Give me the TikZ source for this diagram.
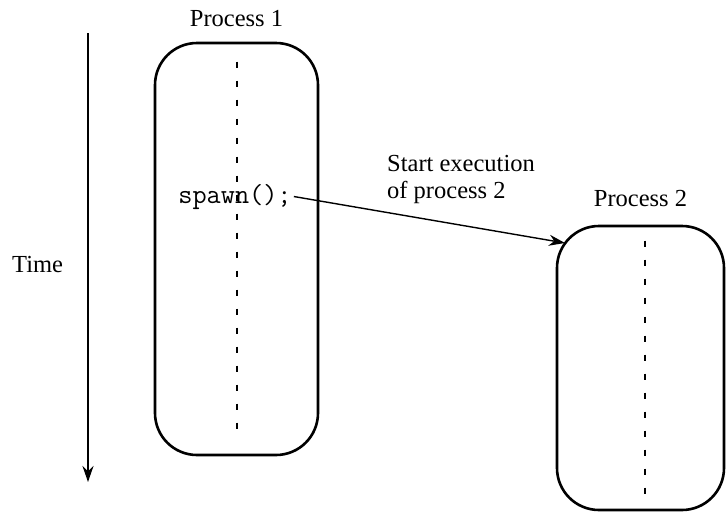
\documentclass[tikz,border=0pt]{standalone}
\usepackage{fontspec}
\setmainfont{Liberation Serif}
\usetikzlibrary{positioning,arrows.meta}
\tikzset{
 proc/.style
  = {rectangle, draw, rounded corners=42pt, line width=2.6pt, inner sep=0pt},
 lbl/.style
  = {inner sep=0pt, font=\fontsize{24.5}{27}\selectfont},
 code/.style
  = {inner sep=2pt, font=\fontsize{27.5}{30}\selectfont\ttfamily},
 life/.style
  = {line width=2pt, dash pattern=on 6pt off 13pt},
 arrow/.style
  = {line width=1.4pt, -{Stealth[length=16pt,width=11pt]}},
}

\begin{document}
\begin{tikzpicture}[x=1pt, y=-1pt]
\useasboundingbox (0,0) rectangle (726,512);
% time axis
\coordinate (t0) at (88,33);
\coordinate (t1) at (88,482);
\draw [arrow, line width=2pt] (t0) -- (t1);
\node (time) [lbl, anchor=base west] at (12,272) {Time};
% the two processes
\node (p1) [proc, minimum width=163pt, minimum height=412pt] at (236.5,249) {};
\node (p2) [proc, minimum width=167pt, minimum height=284pt] at (640.5,368) {};
\node (n1) [lbl, anchor=base] at ([yshift=15pt]p1.north) {Process 1};
\node (n2) [lbl, anchor=base] at ([yshift=18pt]p2.north) {Process 2};
\draw [life] ([yshift=-20pt]p1.north) -- ([yshift=18pt]p1.south);
\draw [life] ([xshift=4pt, yshift=-16pt]p2.north) -- ([xshift=4pt, yshift=5pt]p2.south);
% spawn call
\node (spawn) [code, anchor=base] at (235,203) {spawn();};
\node (start) [lbl, align=left, anchor=north west] at (387,155) {Start execution\\of process 2};
\coordinate (hit) at (565,243);
\draw [arrow] (spawn.east) -- (hit);
\end{tikzpicture}
\end{document}
